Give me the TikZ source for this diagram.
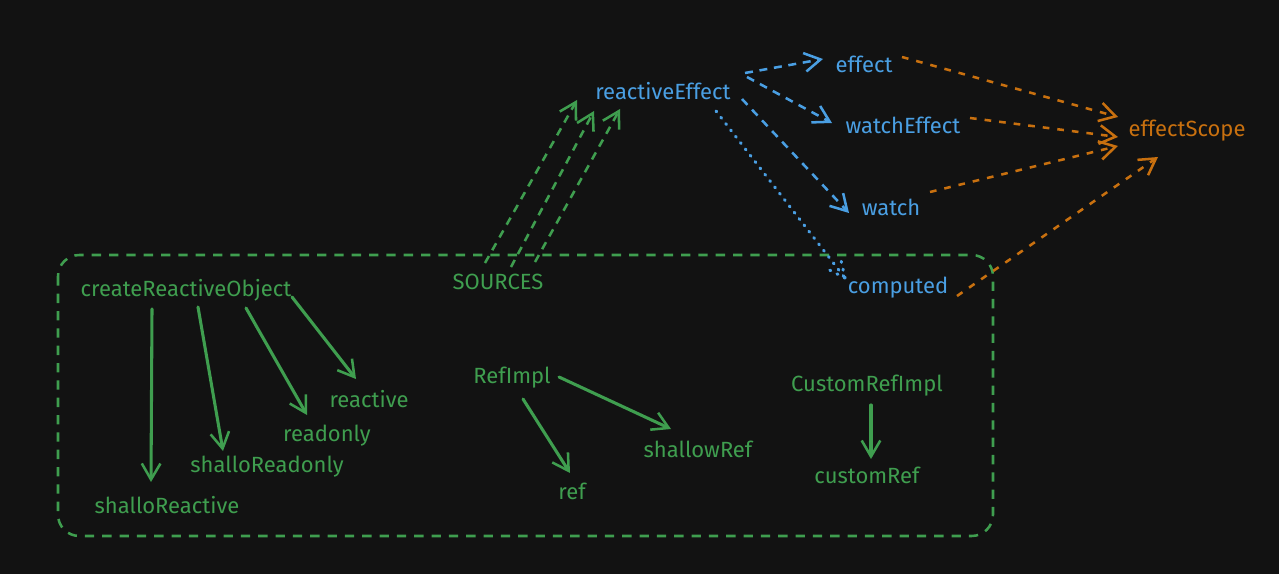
\documentclass[tikz,border=0pt]{standalone}
\usepackage{fontspec}
\setmainfont{Fira Sans}
\usetikzlibrary{arrows.meta,calc}
\definecolor{bgc}{HTML}{121212}
\definecolor{gr}{HTML}{3F9E4F}
\definecolor{bl}{HTML}{4A9FE3}
\definecolor{og}{HTML}{C8700F}
\tikzset{
  lbl/.style={inner sep=0pt, font=\fontsize{16.5}{18}\selectfont},
  glbl/.style={lbl, text=gr},
  blbl/.style={lbl, text=bl},
  olbl/.style={lbl, text=og},
  tip/.style={-{Straight Barb[length=12pt,width=14pt,line width=1.9pt]}},
  gsolid/.style={tip, draw=gr, line width=2.3pt, line cap=round},
  gdash/.style={tip, draw=gr, line width=1.9pt, dash pattern=on 6pt off 5pt},
  bdash/.style={tip, draw=bl, line width=1.9pt, dash pattern=on 6pt off 5pt},
  odash/.style={tip, draw=og, line width=1.9pt, dash pattern=on 5pt off 6pt},
  bdot/.style={draw=bl, line width=2.3pt, line cap=round, dash pattern=on 0.8pt off 5.2pt},
  gbox/.style={draw=gr, line width=1.9pt, dash pattern=on 7pt off 6pt, rounded corners=16pt}
}
\begin{document}
\begin{tikzpicture}[x=0.75pt,y=-0.75pt]
\fill[bgc] (0,0) rectangle (1279,574);
\useasboundingbox (0,0) rectangle (1279,574);
\draw[gbox] (58,255) rectangle (993,536);
% labels
\node[blbl] (re) at (663,91) {reactiveEffect};
\node[blbl] (ef) at (864,64) {effect};
\node[blbl] (we) at (903,125) {watchEffect};
\node[blbl] (wa) at (891,207) {watch};
\node[blbl] (co) at (898,288) {computed};
\node[olbl] (es) at (1187,131) {effectScope};
\node[glbl] (so) at (498,282) {SOURCES};
\node[glbl] (cro) at (186,290) {createReactiveObject};
\node[glbl] (rea) at (369,399) {reactive};
\node[glbl] (ro) at (327,436) {readonly};
\node[glbl] (sro) at (267,467) {shalloReadonly};
\node[glbl] (sre) at (167,505) {shalloReactive};
\node[glbl] (ri) at (512,378) {RefImpl};
\node[glbl] (sr) at (698,449) {shallowRef};
\node[glbl] (rf) at (572,491) {ref};
\node[glbl] (cri) at (867,386) {CustomRefImpl};
\node[glbl] (cr) at (867,475) {customRef};
% sources -> reactiveEffect
\draw[gdash] ([shift={(485-498,263-282)}]so.center) -- ([shift={(577-663,100-91)}]re.center);
\draw[gdash] ([shift={(511-498,267-282)}]so.center) -- ([shift={(594-663,111-91)}]re.center);
\draw[gdash] ([shift={(535-498,262-282)}]so.center) -- ([shift={(620-663,109-91)}]re.center);
% reactiveEffect -> effects
\draw[bdash] ([shift={(745-663,73-91)}]re.center) -- ([shift={(823-864,59-64)}]ef.center);
\draw[bdash] ([shift={(747-663,77-91)}]re.center) -- ([shift={(832-903,123-125)}]we.center);
\draw[bdash] ([shift={(742-663,99-91)}]re.center) -- ([shift={(849-891,213-207)}]wa.center);
\coordinate (cs) at ([shift={(716-663,111-91)}]re.center);
\coordinate (ct) at ([shift={(845-898,278-288)}]co.center);
\draw[bdot] (cs) -- (ct);
\draw[bdot] (ct) -- ($(ct)!14pt!25:(cs)$);
\draw[bdot] (ct) -- ($(ct)!14pt!-25:(cs)$);
% to effectScope
\draw[odash] ([shift={(902-864,57-64)}]ef.center) -- ([shift={(1118-1187,117-131)}]es.center);
\draw[odash] ([shift={(970-903,118-125)}]we.center) -- ([shift={(1118-1187,137-131)}]es.center);
\draw[odash] ([shift={(930-891,192-207)}]wa.center) -- ([shift={(1118-1187,146-131)}]es.center);
\draw[odash] ([shift={(957-898,296-288)}]co.center) -- ([shift={(1158-1187,157-131)}]es.center);
% createReactiveObject
\draw[gsolid] ([shift={(152-186,309-290)}]cro.center) -- ([shift={(151-167,482-505)}]sre.center);
\draw[gsolid] ([shift={(198-186,307-290)}]cro.center) -- ([shift={(223-267,451-467)}]sro.center);
\draw[gsolid] ([shift={(246-186,308-290)}]cro.center) -- ([shift={(307-327,415-436)}]ro.center);
\draw[gsolid] ([shift={(292-186,297-290)}]cro.center) -- ([shift={(356-369,379-399)}]rea.center);
% refs
\draw[gsolid] ([shift={(523-512,399-378)}]ri.center) -- ([shift={(570-572,473-491)}]rf.center);
\draw[gsolid] ([shift={(559-512,377-378)}]ri.center) -- ([shift={(671-698,429-449)}]sr.center);
\draw[gsolid] ([shift={(871-867,405-386)}]cri.center) -- ([shift={(871-867,459-475)}]cr.center);
\end{tikzpicture}
\end{document}
